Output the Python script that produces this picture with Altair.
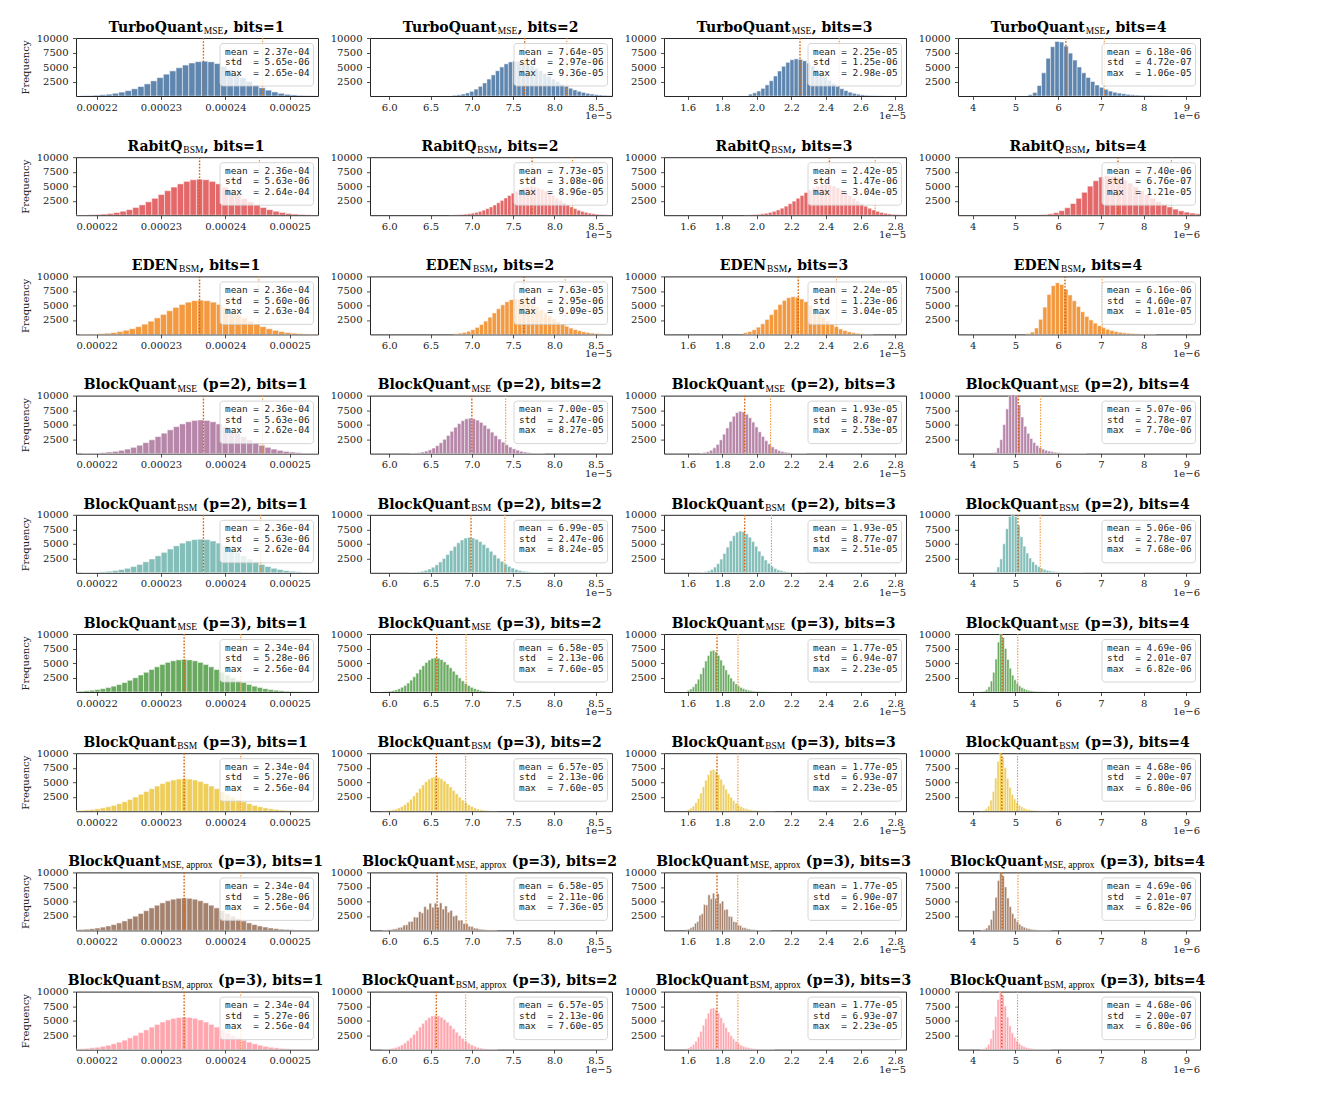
import altair as alt
import pandas as pd

# ---------------- data ----------------
ROW_MAIN = ["TurboQuant", "RabitQ", "EDEN", "BlockQuant", "BlockQuant",
            "BlockQuant", "BlockQuant", "BlockQuant", "BlockQuant"]
ROW_SUB = ["MSE", "BSM", "BSM", "MSE", "BSM", "MSE", "BSM", "MSE, approx", "BSM, approx"]
ROW_P = ["", "", "", "(p=2)", "(p=2)", "(p=3)", "(p=3)", "(p=3)", "(p=3)"]
BITS = [1, 2, 3, 4]
ROW_COLORS = ["#4e79a7", "#e15759", "#f28e2b", "#b07aa1", "#76b7b2",
              "#59a14f", "#edc948", "#9c755f", "#ff9da7"]

# stats shown in the boxes
MEAN_TQ = ["2.37e-04", "7.64e-05", "2.25e-05", "6.18e-06"]
STD_TQ = ["5.65e-06", "2.97e-06", "1.25e-06", "4.72e-07"]
MAX_TQ = ["2.65e-04", "9.36e-05", "2.98e-05", "1.06e-05"]
MEAN_RQ = ["2.36e-04", "7.73e-05", "2.42e-05", "7.40e-06"]
STD_RQ = ["5.63e-06", "3.08e-06", "1.47e-06", "6.76e-07"]
MAX_RQ = ["2.64e-04", "8.96e-05", "3.04e-05", "1.21e-05"]
MEAN_ED = ["2.36e-04", "7.63e-05", "2.24e-05", "6.16e-06"]
STD_ED = ["5.60e-06", "2.95e-06", "1.23e-06", "4.60e-07"]
MAX_ED = ["2.63e-04", "9.09e-05", "3.04e-05", "1.01e-05"]
MEAN_BM2 = ["2.36e-04", "7.00e-05", "1.93e-05", "5.07e-06"]
STD_BM2 = ["5.63e-06", "2.47e-06", "8.78e-07", "2.78e-07"]
MAX_BM2 = ["2.62e-04", "8.27e-05", "2.53e-05", "7.70e-06"]
MEAN_BB2 = ["2.36e-04", "6.99e-05", "1.93e-05", "5.06e-06"]
STD_BB2 = ["5.63e-06", "2.47e-06", "8.77e-07", "2.78e-07"]
MAX_BB2 = ["2.62e-04", "8.24e-05", "2.51e-05", "7.68e-06"]
MEAN_BM3 = ["2.34e-04", "6.58e-05", "1.77e-05", "4.69e-06"]
STD_BM3 = ["5.28e-06", "2.13e-06", "6.94e-07", "2.01e-07"]
MAX_BM3 = ["2.56e-04", "7.60e-05", "2.23e-05", "6.82e-06"]
MEAN_BB3 = ["2.34e-04", "6.57e-05", "1.77e-05", "4.68e-06"]
STD_BB3 = ["5.27e-06", "2.13e-06", "6.93e-07", "2.00e-07"]
MAX_BB3 = ["2.56e-04", "7.60e-05", "2.23e-05", "6.80e-06"]
MEAN_BMA = ["2.34e-04", "6.58e-05", "1.77e-05", "4.69e-06"]
STD_BMA = ["5.28e-06", "2.11e-06", "6.90e-07", "2.01e-07"]
MAX_BMA = ["2.56e-04", "7.36e-05", "2.16e-05", "6.82e-06"]
MEAN_BBA = ["2.34e-04", "6.57e-05", "1.77e-05", "4.68e-06"]
STD_BBA = ["5.27e-06", "2.13e-06", "6.93e-07", "2.00e-07"]
MAX_BBA = ["2.56e-04", "7.60e-05", "2.23e-05", "6.80e-06"]

# x in display units: col1 x1e-4, col2/3 x1e-5, col4 x1e-6
# histogram bin start / width per panel, counts in hundreds
LO_TQ = [2.17495, 6.766, 1.952, 5.30]
W_TQ = [0.0099, 0.052, 0.024, 0.104]
CNT_TQ_1 = [0.5, 0.9, 1.4, 2.2, 3.2, 4.7, 6.7, 9.2, 12.4, 16.3, 20.9, 26.1, 31.7, 37.6, 43.3, 48.7, 53.3, 56.9, 59.2, 60,
            58.9, 55.9, 51.1, 45.1, 38.5, 31.6, 25.1, 19.2, 14.2, 10.1, 7, 4.6, 2.9, 1.9, 1.1, 0.7, 0.4, 0.2, 0.1]
CNT_TQ_2 = [1.2, 2.0, 3.4, 5.3, 8.1, 11.9, 16.7, 22.5, 29.2, 36.4, 43.6, 50.1, 55.4, 58.8, 60, 59.5, 57.9, 55.4, 52.1,
            48.1, 43.6, 38.8, 34.0, 29.2, 24.7, 20.5, 16.7, 13.4, 10.5, 8.1, 6.2, 4.6, 3.4, 2.4, 1.7, 1.2, 0.8, 0.6]
CNT_TQ_3 = [3.2, 5.4, 8.6, 13.2, 19.1, 26.3, 34.5, 43.1, 51.3, 58.0, 62.5, 64, 63.2, 60.7, 56.7, 51.6, 45.8, 39.5, 33.2,
            27.1, 21.6, 16.7, 12.6, 9.3, 6.6, 4.6, 3.1, 2.0, 1.3, 0.8, 0.5, 0.3, 0.2]
CNT_TQ_4 = [2, 6, 18, 40, 65, 85, 94, 93, 86, 74, 62, 50, 40, 32, 25, 19, 15, 11.5, 8.5, 6.5, 5, 3.8, 2.8, 2, 1.5, 1.1,
            0.8, 0.6, 0.4, 0.3, 0.2]

LO_RQ = [2.167, 6.7255, 1.9285, 5.6205]
W_RQ = [0.0099, 0.0442, 0.023, 0.133]
CNT_RQ_1 = [0.2, 0.4, 0.7, 1.2, 1.9, 3.0, 4.6, 6.8, 9.6, 13.3, 17.8, 23.1, 29.1, 35.7, 42.2, 48.5, 54.0, 58.3, 61.1, 62,
            61.1, 58.3, 54.0, 48.5, 42.2, 35.7, 29.1, 23.1, 17.8, 13.3, 9.6, 6.8, 4.6, 3.0, 1.9, 1.2, 0.7, 0.4, 0.2]
CNT_RQ_2 = [0.3, 0.5, 0.8, 1.2, 1.8, 2.6, 3.6, 4.9, 6.6, 8.7, 11.3, 14.3, 17.6, 21.4, 25.5, 29.7, 34.0, 38.0, 41.6, 44.7,
            47.0, 48.5, 49, 48.5, 47.0, 44.7, 41.6, 38.0, 34.0, 29.7, 25.5, 21.4, 17.6, 14.3, 11.3, 8.7, 6.6, 4.9, 3.6,
            2.6, 1.8, 1.2, 0.8, 0.5, 0.3]
CNT_RQ_3 = [0.4, 0.6, 1.0, 1.5, 2.3, 3.4, 4.8, 6.7, 9.1, 12.1, 15.6, 19.7, 24.3, 29.2, 34.1, 39.1, 43.6, 47.5, 50.5, 52.4,
            53, 52.4, 50.5, 47.5, 43.6, 39.1, 34.1, 29.2, 24.3, 19.7, 15.6, 12.1, 9.1, 6.7, 4.8, 3.4, 2.3, 1.5, 1.0, 0.6,
            0.4]
CNT_RQ_4 = [1.2, 2.3, 4.4, 7.8, 12.9, 20.1, 29.1, 39.5, 50.1, 59.4, 65.8, 68, 67.1, 64.5, 60.5, 55.2, 49.1, 42.6, 36.0,
            29.6, 23.7, 18.5, 14.1, 10.5, 7.5, 5.3, 3.7, 2.4, 1.6]

LO_ED = [2.1736, 6.7818, 1.9225, 5.25]
W_ED = [0.00966, 0.0516, 0.025, 0.098]
CNT_ED_1 = [0.3, 0.5, 0.8, 1.3, 2.1, 3.2, 4.8, 7.0, 9.8, 13.3, 17.7, 22.8, 28.5, 34.5, 40.7, 46.5, 51.6, 55.6, 58.1, 59,
            58.1, 55.6, 51.6, 46.5, 40.7, 34.5, 28.5, 22.8, 17.7, 13.3, 9.8, 7.0, 4.8, 3.2, 2.1, 1.3, 0.8, 0.5, 0.3]
CNT_ED_2 = [1.2, 2.1, 3.4, 5.4, 8.2, 12.1, 17.0, 22.9, 29.7, 37.0, 44.3, 50.9, 56.3, 59.8, 61, 60.4, 58.6, 55.6, 51.8,
            47.3, 42.3, 37.0, 31.8, 26.7, 22.0, 17.8, 14.0, 10.9, 8.2, 6.2, 4.5, 3.2, 2.3, 1.6, 1.0, 0.7, 0.4]
CNT_ED_3 = [2.9, 4.9, 8.0, 12.5, 18.3, 25.7, 34.1, 43.0, 51.5, 58.6, 63.3, 65, 64.0, 61.0, 56.3, 50.4, 43.6, 36.6, 29.8,
            23.4, 17.9, 13.2, 9.4, 6.6, 4.4, 2.9, 1.8, 1.1, 0.7, 0.4]
CNT_ED_4 = [1.5, 4, 11, 26, 47, 69, 84, 89, 86, 78, 68, 58, 48, 39, 31, 25, 19.5, 15, 11.5, 8.8, 6.7, 5, 3.7, 2.7, 2, 1.4,
            1, 0.7, 0.5, 0.3, 0.2]

LO_BM2 = [2.1771, 6.2507, 1.6712, 4.495]
W_BM2 = [0.00948, 0.0442, 0.0187, 0.07]
CNT_BM2_1 = [0.4, 0.6, 1.0, 1.7, 2.6, 3.8, 5.6, 7.8, 10.8, 14.4, 18.9, 23.8, 29.3, 35.2, 41.0, 46.5, 51.2, 54.9, 57.2, 58,
             57.2, 54.9, 51.2, 46.5, 41.0, 35.2, 29.3, 23.8, 18.9, 14.4, 10.8, 7.8, 5.6, 3.8, 2.6, 1.7, 1.0, 0.6, 0.4]
CNT_BM2_2 = [0.5, 1.0, 1.6, 2.7, 4.3, 6.5, 9.6, 13.7, 18.7, 24.6, 31.4, 38.4, 45.4, 51.7, 56.7, 59.9, 61, 60.1, 57.7,
             53.8, 48.9, 43.1, 37.0, 30.9, 25.1, 19.8, 15.2, 11.3, 8.2, 5.9, 4.0, 2.7, 1.8, 1.1, 0.7, 0.4, 0.2]
CNT_BM2_3 = [0.8, 1.7, 3.2, 5.8, 9.9, 15.8, 23.7, 33.4, 44.3, 55.1, 64.4, 70.7, 73, 71.7, 67.8, 61.8, 54.3, 46.0, 37.5,
             29.5, 22.3, 16.4, 11.5, 7.8, 5.1, 3.6, 2.4, 1.6, 1.1, 0.7, 0.5, 0.3, 0.2]
CNT_BM2_4 = [2, 10, 24, 50, 77, 100, 108, 100, 84, 63, 47, 35, 26, 19, 14, 10.5, 7.8, 5.8, 4.3, 3.2, 2.4, 1.8, 1.3, 1.0,
             0.7, 0.5, 0.4, 0.3, 0.2, 0.2, 0.1]

LO_BB2 = [2.1771, 6.2473, 1.6763, 4.50]
W_BB2 = [0.00948, 0.0438, 0.0183, 0.0676]
CNT_BB2_1 = [0.4, 0.6, 1.0, 1.7, 2.6, 3.8, 5.6, 7.8, 10.8, 14.4, 18.9, 23.8, 29.3, 35.2, 41.0, 46.5, 51.2, 54.9, 57.2, 58,
             57.2, 54.9, 51.2, 46.5, 41.0, 35.2, 29.3, 23.8, 18.9, 14.4, 10.8, 7.8, 5.6, 3.8, 2.6, 1.7, 1.0, 0.6, 0.4]
CNT_BB2_2 = [0.5, 1.0, 1.6, 2.7, 4.3, 6.5, 9.6, 13.7, 18.7, 24.6, 31.4, 38.4, 45.4, 51.7, 56.7, 59.9, 61, 60.1, 57.7,
             53.8, 48.9, 43.1, 37.0, 30.9, 25.1, 19.8, 15.2, 11.3, 8.2, 5.9, 4.0, 2.7, 1.8, 1.1, 0.7, 0.4, 0.2]
CNT_BB2_3 = [0.8, 1.7, 3.2, 5.8, 9.9, 15.8, 23.7, 33.4, 44.3, 55.0, 64.0, 70.0, 72, 71.0, 67.2, 61.3, 54.0, 45.8, 37.3,
             29.4, 22.2, 16.3, 11.4, 7.7, 5.1, 3.6, 2.4, 1.6, 1.1, 0.7, 0.5, 0.3, 0.2]
CNT_BB2_4 = [2, 10, 24, 50, 76, 97, 104, 97, 82, 62, 46, 34, 25.5, 19, 14, 10.5, 7.8, 5.8, 4.3, 3.2, 2.4, 1.8, 1.3, 1.0,
             0.7, 0.5, 0.4, 0.3, 0.2, 0.2, 0.1]

LO_BM3 = [2.1384, 5.9195, 1.5981, 4.1925]
W_BM3 = [0.00841, 0.0366, 0.01447, 0.055]
CNT_BM3_1 = [0.3, 0.4, 0.7, 1.0, 1.4, 2.1, 3.0, 4.1, 5.7, 7.6, 10.0, 12.9, 16.3, 20.2, 24.5, 29.2, 34.0, 38.8, 43.4,
             47.5, 51.1, 53.8, 55.4, 56, 55.4, 53.8, 51.1, 47.5, 43.4, 38.8, 34.0, 29.2, 24.5, 20.2, 16.3, 12.9, 10.0,
             7.6, 5.7, 4.1, 3.0, 2.1, 1.4, 1.0, 0.7, 0.4, 0.3, 0.2]
CNT_BM3_2 = [0.5, 0.9, 1.4, 2.3, 3.6, 5.5, 8.0, 11.3, 15.5, 20.5, 26.3, 32.5, 39.0, 45.3, 50.9, 55.2, 58.1, 59, 58.2,
             55.8, 52.0, 47.3, 41.7, 35.8, 29.9, 24.2, 19.2, 14.7, 11.0, 8.0, 5.7, 3.9, 2.6, 1.7, 1.1, 0.6, 0.4, 0.2]
CNT_BM3_3 = [2.8, 5.2, 8.9, 14.4, 22.0, 31.3, 42.0, 53.4, 62.9, 70.7, 72, 69, 63, 55, 46, 38, 30.5, 24, 18.5, 14, 10.5,
             7.8, 5.8, 4.3, 3.2, 2.3, 1.7, 1.2, 0.9, 0.6, 0.45, 0.3, 0.2, 0.15, 0.1]
CNT_BM3_4 = [0.5, 1.5, 4, 9, 19, 34, 57, 86, 103, 94, 75, 56, 41, 29, 21, 15, 10.5, 7.5, 5.4, 3.8, 2.8, 2, 1.4, 1, 0.7,
             0.5, 0.35, 0.25, 0.15, 0.1]

LO_BB3 = [2.1384, 5.9145, 1.5981, 4.1825]
W_BB3 = [0.00842, 0.0368, 0.01447, 0.0552]
CNT_BB3_1 = [0.3, 0.4, 0.7, 1.0, 1.4, 2.1, 3.0, 4.1, 5.7, 7.6, 10.0, 12.9, 16.3, 20.2, 24.5, 29.2, 34.0, 38.8, 43.4,
             47.5, 51.1, 53.8, 55.4, 56, 55.4, 53.8, 51.1, 47.5, 43.4, 38.8, 34.0, 29.2, 24.5, 20.2, 16.3, 12.9, 10.0,
             7.6, 5.7, 4.1, 3.0, 2.1, 1.4, 1.0, 0.7, 0.4, 0.3, 0.2]
CNT_BB3_2 = [0.5, 0.9, 1.4, 2.3, 3.6, 5.5, 8.0, 11.3, 15.5, 20.5, 26.3, 32.5, 39.0, 45.3, 50.9, 55.2, 58.1, 59, 58.2,
             55.8, 52.0, 47.3, 41.7, 35.8, 29.9, 24.2, 19.2, 14.7, 11.0, 8.0, 5.7, 3.9, 2.6, 1.7, 1.1, 0.6, 0.4, 0.2]
CNT_BB3_3 = [2.8, 5.2, 8.9, 14.4, 22.0, 31.3, 42.0, 53.4, 62.9, 70.7, 72, 69, 63, 55, 46, 38, 30.5, 24, 18.5, 14, 10.5,
             7.8, 5.8, 4.3, 3.2, 2.3, 1.7, 1.2, 0.9, 0.6, 0.45, 0.3, 0.2, 0.15, 0.1]
CNT_BB3_4 = [0.5, 1.5, 4, 9, 19, 34, 57, 86, 103, 94, 75, 56, 41, 29, 21, 15, 10.5, 7.5, 5.4, 3.8, 2.8, 2, 1.4, 1, 0.7,
             0.5, 0.35, 0.25, 0.15, 0.1]

LO_BMA = [2.1384, 5.9122, 1.5875, 4.1925]
W_BMA = [0.00841, 0.0316, 0.013, 0.055]
CNT_BMA_1 = [0.3, 0.4, 0.7, 1.0, 1.4, 2.1, 3.0, 4.1, 5.7, 7.6, 10.0, 12.9, 16.3, 20.2, 24.5, 29.2, 34.0, 38.8, 43.4,
             47.5, 51.1, 53.8, 55.4, 56, 55.4, 53.8, 51.1, 47.5, 43.4, 38.8, 34.0, 29.2, 24.5, 20.2, 16.3, 12.9, 10.0,
             7.6, 5.7, 4.1, 3.0, 2.1, 1.4, 1.0, 0.7, 0.4, 0.3, 0.2]
CNT_BMA_2 = [0.4, 0.6, 1.1, 1.4, 2.5, 2.8, 4.9, 5.4, 9.0, 9.7, 15.1, 15.6, 23.2, 22.7, 32.3, 30.2, 41.0, 36.5, 46.8,
             40.0, 47, 40.0, 47.5, 36.9, 42.1, 31.4, 34.3, 24.7, 25.9, 17.7, 17.8, 11.8, 11.4, 7.2, 6.7, 4.1, 3.6, 2.2,
             1.9, 1.1, 0.9, 0.5, 0.4, 0.2]
CNT_BMA_3 = [1.5, 2.2, 4.7, 6.5, 12.4, 15.2, 26.2, 28.7, 44.5, 43.9, 61.3, 54.4, 64, 54.9, 63.3, 46.8, 50.6, 35.6, 36.3,
             24.3, 23.7, 15.3, 14.5, 9.1, 8.4, 5.1, 4.6, 2.8, 2.5, 1.5, 1.3, 0.8, 0.7, 0.4, 0.3, 0.2, 0.15, 0.1]
CNT_BMA_4 = [0.5, 1.5, 4, 9, 19, 34, 57, 86, 103, 94, 75, 56, 41, 29, 21, 15, 10.5, 7.5, 5.4, 3.8, 2.8, 2, 1.4, 1, 0.7,
             0.5, 0.35, 0.25, 0.15, 0.1]

LO_BBA = [2.1384, 5.9145, 1.5981, 4.1825]
W_BBA = [0.00842, 0.0368, 0.01447, 0.0552]
CNT_BBA_1 = CNT_BB3_1
CNT_BBA_2 = CNT_BB3_2
CNT_BBA_3 = CNT_BB3_3
CNT_BBA_4 = CNT_BB3_4

# dotted lines: mean and upper line (display units)
MLINE = [[2.366, 7.64, 2.25, 6.18], [2.36, 7.73, 2.42, 7.40], [2.36, 7.63, 2.24, 6.16],
         [2.366, 7.00, 1.93, 5.07], [2.366, 6.99, 1.93, 5.06], [2.336, 6.575, 1.77, 4.69],
         [2.336, 6.57, 1.77, 4.68], [2.336, 6.58, 1.77, 4.69], [2.336, 6.57, 1.77, 4.68]]
PLINE = [[2.458, 8.15, 2.477, 7.08], [2.453, 8.22, 2.685, 8.65], [2.452, 8.13, 2.461, 7.03],
         [2.458, 7.41, 2.08, 5.59], [2.455, 7.40, 2.085, 5.58], [2.424, 6.93, 1.8915, 5.055],
         [2.424, 6.925, 1.891, 5.05], [2.424, 6.93, 1.89, 5.06], [2.424, 6.925, 1.891, 5.05]]

X_DOMAIN = [[2.168, 2.544], [5.767, 8.697], [1.4635, 2.863], [3.657, 9.319]]
X_TICKS = [[2.2, 2.3, 2.4, 2.5], [6.0, 6.5, 7.0, 7.5, 8.0, 8.5],
           [1.6, 1.8, 2.0, 2.2, 2.4, 2.6, 2.8], [4, 5, 6, 7, 8, 9]]
X_OFFSET_TXT = ["", "1e\u22125", "1e\u22125", "1e\u22126"]
Y_TICKS = [2500, 5000, 7500, 10000]

STATS = [(MEAN_TQ, STD_TQ, MAX_TQ), (MEAN_RQ, STD_RQ, MAX_RQ), (MEAN_ED, STD_ED, MAX_ED),
         (MEAN_BM2, STD_BM2, MAX_BM2), (MEAN_BB2, STD_BB2, MAX_BB2), (MEAN_BM3, STD_BM3, MAX_BM3),
         (MEAN_BB3, STD_BB3, MAX_BB3), (MEAN_BMA, STD_BMA, MAX_BMA), (MEAN_BBA, STD_BBA, MAX_BBA)]
BIN_LO = [LO_TQ, LO_RQ, LO_ED, LO_BM2, LO_BB2, LO_BM3, LO_BB3, LO_BMA, LO_BBA]
BIN_W = [W_TQ, W_RQ, W_ED, W_BM2, W_BB2, W_BM3, W_BB3, W_BMA, W_BBA]
COUNTS = [[CNT_TQ_1, CNT_TQ_2, CNT_TQ_3, CNT_TQ_4], [CNT_RQ_1, CNT_RQ_2, CNT_RQ_3, CNT_RQ_4],
          [CNT_ED_1, CNT_ED_2, CNT_ED_3, CNT_ED_4], [CNT_BM2_1, CNT_BM2_2, CNT_BM2_3, CNT_BM2_4],
          [CNT_BB2_1, CNT_BB2_2, CNT_BB2_3, CNT_BB2_4], [CNT_BM3_1, CNT_BM3_2, CNT_BM3_3, CNT_BM3_4],
          [CNT_BB3_1, CNT_BB3_2, CNT_BB3_3, CNT_BB3_4], [CNT_BMA_1, CNT_BMA_2, CNT_BMA_3, CNT_BMA_4],
          [CNT_BBA_1, CNT_BBA_2, CNT_BBA_3, CNT_BBA_4]]

# ---------------- style ----------------
PW, PH = 242, 58
TITLE_SIZE = 14
SUB_SIZE = 9.5
INK = "#222222"
SERIF = "DejaVu Serif"
MONO = "DejaVu Sans Mono"

BOLD_EM = {'T': .73, 'u': .71, 'r': .53, 'b': .71, 'o': .67, 'Q': .85, 'a': .65, 'n': .71, 't': .46,
           'R': .80, 'i': .38, 'E': .76, 'D': .83, 'N': .89, 'B': .79, 'l': .38, 'c': .60, 'k': .69,
           's': .59, 'p': .71, '(': .47, ')': .47, ',': .38, ' ': .35, '\u00a0': .35, '=': .84}
SUB_EM = {'M': .889, 'S': .556, 'E': .611, 'B': .667, ',': .25, ' ': .25, 'a': .444, 'p': .5,
          'r': .333, 'o': .5, 'x': .5}


def tw(s, table, size, dflt=0.70):
    return sum(table.get(ch, dflt) for ch in s) * size


ONE = pd.DataFrame({"k": [0]})


def panel(r, c):
    lo, w, cnt = BIN_LO[r][c], BIN_W[r][c], COUNTS[r][c]
    n = len(cnt)
    df = pd.DataFrame({"x0": [lo + i * w for i in range(n)],
                       "x1": [lo + (i + 1) * w for i in range(n)],
                       "freq": [v * 100 for v in cnt],
                       "base": [0] * n})
    xs = alt.Scale(domain=X_DOMAIN[c], nice=False, zero=False)
    ys = alt.Scale(domain=[0, 10000], nice=False)
    if c == 0:
        xaxis = alt.Axis(values=X_TICKS[c], labelExpr="format(datum.value / 10000, '.5f')", title=None)
    elif c == 3:
        xaxis = alt.Axis(values=X_TICKS[c], format="d", title=None)
    else:
        xaxis = alt.Axis(values=X_TICKS[c], format=".1f", title=None)
    if c == 0:
        yaxis = alt.Axis(values=Y_TICKS, format="d", title="Frequency")
    else:
        yaxis = alt.Axis(values=Y_TICKS, format="d", title=None)

    bars = alt.Chart(df).mark_rect(clip=True, color=ROW_COLORS[r], opacity=0.9,
                                   stroke="white", strokeWidth=0.5).encode(
        x=alt.X("x0:Q", scale=xs, axis=xaxis), x2="x1:Q",
        y=alt.Y("freq:Q", scale=ys, axis=yaxis), y2="base:Q")

    rmean = alt.Chart(pd.DataFrame({"v": [MLINE[r][c]]})).mark_rule(
        clip=True, color="#d95f02", strokeWidth=1.4, strokeDash=[1.6, 1.6]).encode(
        x=alt.X("v:Q", scale=xs, axis=xaxis))
    rp = alt.Chart(pd.DataFrame({"v": [PLINE[r][c]]})).mark_rule(
        clip=True, color="#f28e2b", strokeWidth=1.1, strokeDash=[1.4, 1.4]).encode(
        x=alt.X("v:Q", scale=xs, axis=xaxis))

    box = alt.Chart(ONE).mark_rect(fill="white", fillOpacity=0.8, stroke="#cccccc", strokeWidth=0.8,
                                   cornerRadius=3).encode(
        x=alt.value(144), x2=alt.value(237.5), y=alt.value(5.5), y2=alt.value(48))

    mean_s, std_s, max_s = STATS[r]
    lines = ["mean = " + mean_s[c], "std\u00a0\u00a0= " + std_s[c], "max\u00a0\u00a0= " + max_s[c]]
    texts = []
    for i, t in enumerate(lines):
        texts.append(alt.Chart(ONE).mark_text(font=MONO, fontSize=9.4, align="left", baseline="middle",
                                              color=INK).encode(
            x=alt.value(149), y=alt.value(13.6 + 10.5 * i), text=alt.value(t)))

    main = ROW_MAIN[r]
    sub = ROW_SUB[r]
    if ROW_P[r]:
        suffix = ROW_P[r] + ",\u00a0bits=" + str(BITS[c])
        gap2 = 5.2
    else:
        suffix = ",\u00a0bits=" + str(BITS[c])
        gap2 = 0.4
    gap1 = 1.0
    wm = tw(main, BOLD_EM, TITLE_SIZE)
    ws = tw(sub, SUB_EM, SUB_SIZE)
    wsf = tw(suffix, BOLD_EM, TITLE_SIZE)
    total = wm + gap1 + ws + gap2 + wsf
    start = PW / 2 - total / 2
    t_main = alt.Chart(ONE).mark_text(font=SERIF, fontWeight="bold", fontSize=TITLE_SIZE, align="right",
                                      baseline="alphabetic", color="black").encode(
        x=alt.value(start + wm), y=alt.value(-6.3), text=alt.value(main))
    t_sub = alt.Chart(ONE).mark_text(font="Liberation Serif", fontSize=SUB_SIZE, align="left",
                                     baseline="alphabetic", color="black").encode(
        x=alt.value(start + wm + gap1), y=alt.value(-4.0), text=alt.value(sub))
    t_suf = alt.Chart(ONE).mark_text(font=SERIF, fontWeight="bold", fontSize=TITLE_SIZE, align="left",
                                     baseline="alphabetic", color="black").encode(
        x=alt.value(start + wm + gap1 + ws + gap2), y=alt.value(-6.3), text=alt.value(suffix))

    layers = [bars, rmean, rp, box] + texts + [t_main, t_sub, t_suf]
    if X_OFFSET_TXT[c]:
        layers.append(alt.Chart(ONE).mark_text(font=SERIF, fontSize=10, align="right", baseline="alphabetic",
                                               color=INK).encode(
            x=alt.value(PW), y=alt.value(PH + 23), text=alt.value(X_OFFSET_TXT[c])))
    return alt.layer(*layers).properties(width=PW, height=PH)


panels = [panel(r, c) for r in range(9) for c in range(4)]

chart = alt.concat(*panels, columns=4, spacing={"row": 61.2, "column": 52}, bounds="flush").configure_view(
    stroke="#262626", strokeWidth=1
).configure_axis(
    domain=False, grid=False, tickColor="#262626", tickSize=3.5, tickWidth=0.8,
    labelFont=SERIF, labelFontSize=10, labelColor=INK, labelFlush=False,
    titleFont=SERIF, titleFontSize=10, titleFontWeight="normal", titleColor=INK
).configure_axisX(labelPadding=2.5).configure_axisY(labelPadding=4.5, titlePadding=5.5).properties(
    padding={"left": 20, "top": 20, "right": 5, "bottom": 5}, background="white"
)

chart.save("out.html", embed_options={"renderer": "svg", "actions": False})
